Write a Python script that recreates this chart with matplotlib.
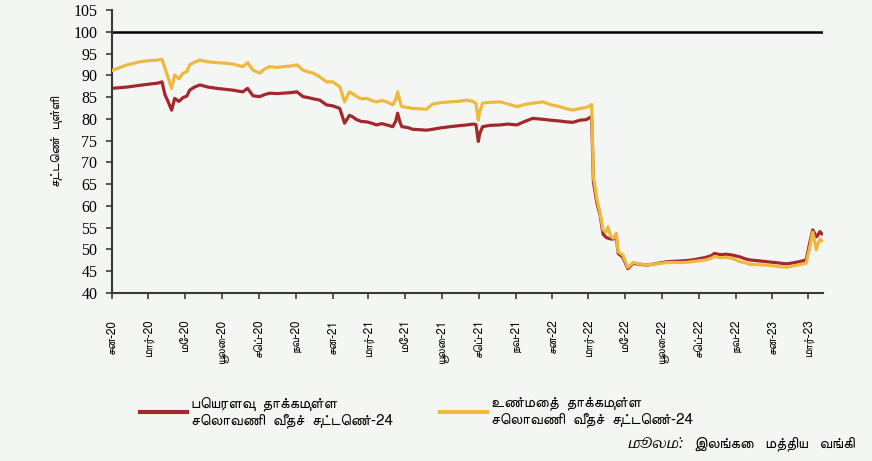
import matplotlib
matplotlib.use('Agg')
import matplotlib.pyplot as plt
from matplotlib import font_manager
from matplotlib.ft2font import FT2Font
import pandas as pd

# Dates and index values
dates = [
    '2020-01-01', '2020-01-26', '2020-02-16', '2020-03-04', '2020-03-17', '2020-03-24',
    '2020-03-29', '2020-04-03', '2020-04-09', '2020-04-14', '2020-04-21', '2020-04-28',
    '2020-05-04', '2020-05-09', '2020-05-17', '2020-05-26', '2020-06-08', '2020-06-23',
    '2020-07-06', '2020-07-19', '2020-08-05', '2020-08-13', '2020-08-22', '2020-09-02',
    '2020-09-11', '2020-09-19', '2020-10-01', '2020-10-11', '2020-10-22', '2020-11-03',
    '2020-11-13', '2020-11-21', '2020-11-30', '2020-12-11', '2020-12-22', '2021-01-01',
    '2021-01-13', '2021-01-21', '2021-01-29', '2021-02-03', '2021-02-10', '2021-02-18',
    '2021-02-27', '2021-03-07', '2021-03-15', '2021-03-24', '2021-04-01', '2021-04-11',
    '2021-04-16', '2021-04-19', '2021-04-23', '2021-04-26', '2021-05-06', '2021-05-14',
    '2021-05-26', '2021-06-06', '2021-06-16', '2021-06-28', '2021-07-15', '2021-07-28',
    '2021-08-12', '2021-08-22', '2021-08-27', '2021-08-31', '2021-09-02', '2021-09-07',
    '2021-09-19', '2021-10-06', '2021-10-19', '2021-11-03', '2021-11-16', '2021-11-29',
    '2021-12-16', '2021-12-28', '2022-01-13', '2022-01-25', '2022-02-04', '2022-02-16',
    '2022-02-26', '2022-03-04', '2022-03-07', '2022-03-10', '2022-03-16', '2022-03-21',
    '2022-03-26', '2022-03-31', '2022-04-03', '2022-04-08', '2022-04-12', '2022-04-17',
    '2022-04-20', '2022-04-28', '2022-05-06', '2022-05-15', '2022-05-26', '2022-06-06',
    '2022-06-16', '2022-06-28', '2022-07-11', '2022-07-26', '2022-08-08', '2022-08-22',
    '2022-09-02', '2022-09-13', '2022-09-22', '2022-09-27', '2022-10-06', '2022-10-17',
    '2022-10-27', '2022-11-08', '2022-11-16', '2022-11-24', '2022-12-08', '2022-12-22',
    '2023-01-05', '2023-01-24', '2023-02-04', '2023-02-15', '2023-02-26', '2023-03-04',
    '2023-03-09', '2023-03-15', '2023-03-17', '2023-03-21', '2023-03-24',
]
neer = [
    87.0, 87.3, 87.7, 88.0, 88.2, 88.5, 85.5, 84.0, 82.0, 84.7, 84.0, 84.9,
    85.2, 86.6, 87.3, 87.8, 87.3, 87.0, 86.8, 86.6, 86.2, 87.0, 85.3, 85.1,
    85.6, 85.9, 85.8, 85.9, 86.0, 86.2, 85.1, 84.9, 84.6, 84.3, 83.2, 83.0,
    82.4, 79.0, 80.8, 80.5, 79.8, 79.4, 79.3, 79.0, 78.6, 78.9, 78.6, 78.2,
    79.5, 81.3, 79.2, 78.2, 78.0, 77.6, 77.5, 77.4, 77.6, 77.9, 78.2, 78.4,
    78.6, 78.8, 78.7, 74.8, 76.5, 78.2, 78.5, 78.6, 78.8, 78.6, 79.4, 80.1,
    79.9, 79.7, 79.5, 79.3, 79.2, 79.7, 79.8, 80.3, 80.5, 65.5, 60.5, 58.0,
    53.5, 52.8, 52.6, 52.4, 52.4, 52.9, 49.1, 48.2, 45.6, 46.8, 46.6, 46.4,
    46.6, 46.9, 47.2, 47.3, 47.4, 47.6, 47.9, 48.2, 48.6, 49.1, 48.8, 48.9,
    48.7, 48.3, 47.9, 47.6, 47.4, 47.2, 47.0, 46.7, 46.9, 47.2, 47.6, 51.5,
    54.5, 52.9, 53.2, 54.1, 53.6,
]
reer = [
    91.1, 92.4, 93.1, 93.4, 93.5, 93.7, 91.6, 89.5, 87.0, 90.1, 89.2, 90.5,
    90.8, 92.4, 93.0, 93.5, 93.1, 92.9, 92.8, 92.6, 92.0, 92.9, 91.2, 90.5,
    91.5, 92.0, 91.8, 92.0, 92.1, 92.4, 91.2, 90.8, 90.5, 89.6, 88.5, 88.5,
    87.4, 83.9, 86.2, 85.8, 85.1, 84.6, 84.7, 84.2, 83.9, 84.2, 83.9, 83.2,
    84.5, 86.2, 84.0, 82.8, 82.6, 82.4, 82.3, 82.2, 83.4, 83.7, 83.9, 84.0,
    84.3, 84.0, 83.5, 79.7, 81.5, 83.6, 83.8, 83.9, 83.4, 82.8, 83.3, 83.6,
    83.9, 83.3, 82.8, 82.3, 82.0, 82.4, 82.6, 83.0, 83.3, 66.7, 61.4, 58.4,
    54.5, 54.0, 55.2, 53.0, 52.6, 53.7, 49.5, 48.7, 45.9, 47.0, 46.7, 46.4,
    46.6, 46.8, 47.0, 47.0, 47.0, 47.2, 47.4, 47.6, 48.0, 48.4, 48.1, 48.2,
    47.9, 47.2, 47.0, 46.6, 46.5, 46.4, 46.2, 45.9, 46.2, 46.5, 46.8, 50.5,
    54.0, 49.9, 51.0, 52.4, 52.0,
]

tick_dates = pd.date_range('2020-01-01', '2023-03-01', freq='2MS')
tick_labels = ['சன-20', 'மார்-20', 'மே-20', 'யூலை-20', 'செப்-20', 'நவ-20',
               'சன-21', 'மார்-21', 'மே-21', 'யூலை-21', 'செப்-21', 'நவ-21',
               'சன-22', 'மார்-22', 'மே-22', 'யூலை-22', 'செப்-22', 'நவ-22',
               'சன-23', 'மார்-23']

label_neer = 'பெயரளவு  தாக்கமுள்ள\nசெலாவணி  வீதச்  சுட்டெண்-24'
label_reer = 'உண்மைத்  தாக்கமுள்ள\nசெலாவணி  வீதச்  சுட்டெண்-24'
ylabel = 'சுட்டெண்  புள்ளி'
source_head = 'மூலம்:'
source_body = 'இலங்கை   மத்திய   வங்கி'


# look for installed fonts that carry Tamil glyphs
def tamil_fonts():
    regular, italic = [], []
    for f in font_manager.fontManager.ttflist:
        try:
            if ord('த') not in FT2Font(f.fname).get_charmap():
                continue
        except Exception:
            continue
        w = f.weight if isinstance(f.weight, int) else 400
        if f.style == 'normal':
            regular.append((abs(w - 400), 'Sans' not in f.name, f.name))
        else:
            italic.append((abs(w - 400), 'Sans' not in f.name, f.name, w))
    return sorted(regular), sorted(italic)


reg, ital = tamil_fonts()
fam = ([reg[0][2]] if reg else []) + ['DejaVu Sans']
plt.rcParams['font.family'] = fam

bg = '#f4f6f3'
red = '#a3282b'
yellow = '#efb93f'
axis_col = '#3a3a3a'

x = pd.to_datetime(dates)

fig = plt.figure(figsize=(8.72, 4.61), dpi=100, facecolor=bg)
ax = fig.add_axes([112 / 872, 1 - 293 / 461, 711 / 872, 283 / 461], facecolor=bg)

ax.axhline(100, color='black', lw=1.8, zorder=1)
ax.plot(x, neer, color=red, lw=2.3, zorder=2)
ax.plot(x, reer, color=yellow, lw=2.3, zorder=3)

ax.set_ylim(40, 105)
ax.set_yticks(range(40, 106, 5))
ax.set_xlim(pd.Timestamp('2020-01-01'), pd.Timestamp('2023-03-26'))
ax.set_xticks(tick_dates)
ax.set_xticklabels(tick_labels, rotation=90, fontsize=8.5)

for lab in ax.get_yticklabels():
    lab.set_family('Liberation Serif')
    lab.set_fontsize(11.5)

for s in ['top', 'right']:
    ax.spines[s].set_visible(False)
for s in ['left', 'bottom']:
    ax.spines[s].set_color(axis_col)
    ax.spines[s].set_linewidth(1.5)
ax.tick_params(axis='both', color=axis_col, width=1.2, length=4.5)
ax.tick_params(axis='y', pad=6)
ax.tick_params(axis='x', pad=14)

fig.text(57 / 872, 1 - 141 / 461, ylabel, rotation=90,
         ha='center', va='center', fontsize=9.5)

# two separate legend entries, placed like the reference
h1, = ax.plot([], [], color=red, lw=3)
h2, = ax.plot([], [], color=yellow, lw=3)
for h, lab, x0 in [(h1, label_neer, 140), (h2, label_reer, 440)]:
    fig.legend([h], [lab], frameon=False, loc='upper left',
               bbox_to_anchor=(x0 / 872, 1 - 396 / 461), borderpad=0,
               borderaxespad=0, fontsize=11, handlelength=3.1,
               handletextpad=0.25, labelspacing=0)

fig.text(855 / 872, 1 - 444 / 461, source_body, ha='right',
         va='center', fontsize=11)
if ital:
    fig.text(684 / 872, 1 - 444 / 461, source_head, ha='right', va='center',
             fontsize=10, family=[ital[0][2], 'DejaVu Sans'], style='italic',
             weight=ital[0][3])
else:
    fig.text(684 / 872, 1 - 444 / 461, source_head, ha='right', va='center',
             fontsize=10)

fig.savefig('out.png', dpi=100, facecolor=bg)
